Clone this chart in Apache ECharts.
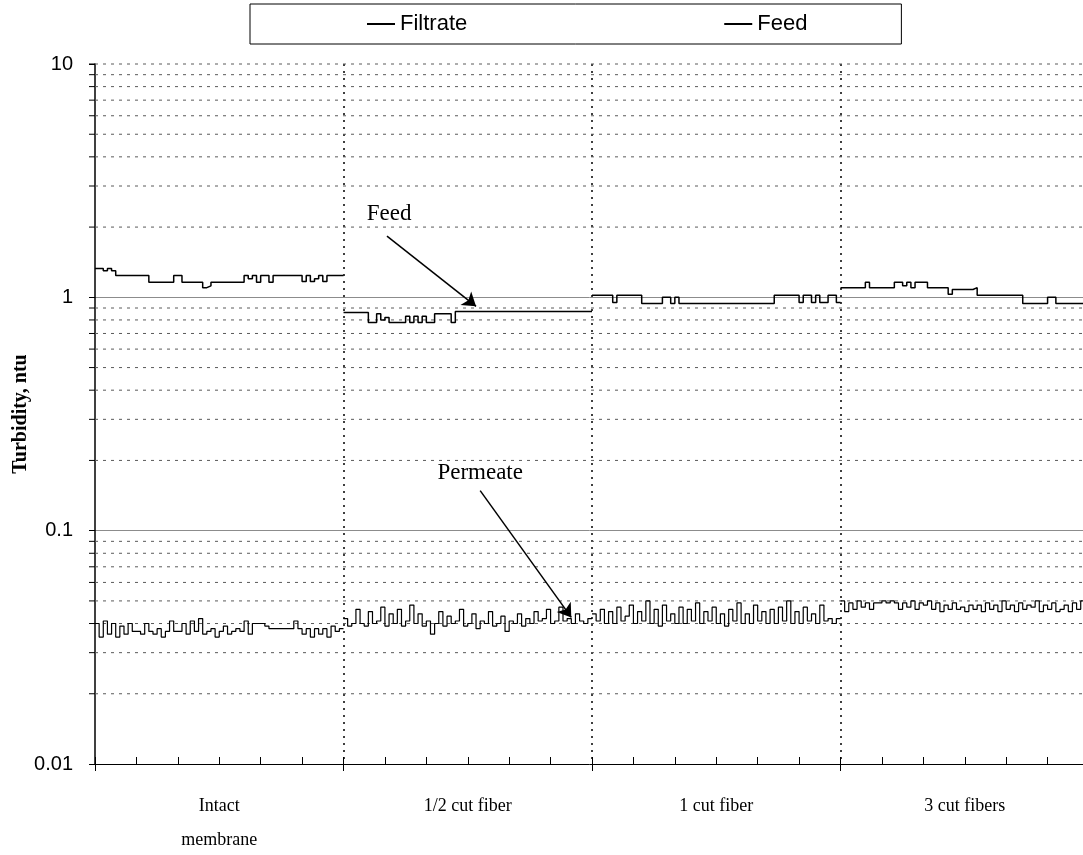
<!DOCTYPE html>
<html>
<head>
<meta charset="utf-8">
<script src="https://cdn.jsdelivr.net/npm/echarts@6/dist/echarts.min.js"></script>
<style>
  html, body { margin: 0; padding: 0; background: #fff; overflow: hidden; }
  #chart { width: 1083px; height: 855px; }
</style>
</head>
<body>
<div id="chart"></div>
<script>
// Membrane integrity test: turbidity of filtrate and feed for each fiber condition.
const categories = ['Intact\nmembrane', '1/2 cut fiber', '1 cut fiber', '3 cut fibers'];
const categoryCentres = [3, 9, 15, 21];      // x position of each condition label
const segmentLength = 6;                      // x span of one condition
const sampleStep = 0.1;                       // spacing of readings along x
const yTickLabels = { 0.01: '0.01', 0.1: '0.1', 1: '1', 10: '10' };
const minorGridValues = [
  0.02, 0.03, 0.04, 0.05, 0.06, 0.07, 0.08, 0.09,
  0.2, 0.3, 0.4, 0.5, 0.6, 0.7, 0.8, 0.9,
  2, 3, 4, 5, 6, 7, 8, 9, 10
];

// Filtrate (permeate) turbidity, ntu — one reading per sample step
const filtrateIntact = [
  0.040, 0.035, 0.041, 0.036, 0.040, 0.035, 0.039, 0.036, 0.040, 0.037,
  0.037, 0.036, 0.040, 0.037, 0.036, 0.038, 0.035, 0.037, 0.041, 0.037,
  0.037, 0.040, 0.036, 0.041, 0.037, 0.042, 0.036, 0.037, 0.038, 0.035,
  0.037, 0.039, 0.036, 0.037, 0.038, 0.037, 0.041, 0.036, 0.040, 0.040,
  0.040, 0.039, 0.038, 0.038, 0.038, 0.038, 0.038, 0.038, 0.041, 0.038,
  0.036, 0.038, 0.035, 0.038, 0.036, 0.038, 0.035, 0.039, 0.037, 0.038
];
const filtrateHalfCut = [
  0.042, 0.039, 0.040, 0.046, 0.040, 0.039, 0.045, 0.040, 0.041, 0.047,
  0.039, 0.044, 0.040, 0.046, 0.039, 0.041, 0.048, 0.040, 0.044, 0.039,
  0.041, 0.036, 0.040, 0.045, 0.039, 0.043, 0.040, 0.041, 0.046, 0.039,
  0.040, 0.044, 0.038, 0.041, 0.040, 0.045, 0.039, 0.040, 0.043, 0.037,
  0.041, 0.040, 0.044, 0.039, 0.042, 0.040, 0.045, 0.041, 0.042, 0.046,
  0.040, 0.041, 0.047, 0.041, 0.042, 0.040, 0.044, 0.041, 0.040, 0.042
];
const filtrateOneCut = [
  0.044, 0.041, 0.046, 0.040, 0.045, 0.040, 0.047, 0.041, 0.043, 0.048,
  0.040, 0.045, 0.041, 0.050, 0.040, 0.046, 0.039, 0.048, 0.041, 0.044,
  0.040, 0.047, 0.040, 0.046, 0.041, 0.049, 0.040, 0.045, 0.041, 0.047,
  0.040, 0.044, 0.039, 0.046, 0.041, 0.049, 0.040, 0.044, 0.040, 0.048,
  0.041, 0.045, 0.040, 0.046, 0.040, 0.047, 0.041, 0.050, 0.040, 0.045,
  0.040, 0.047, 0.041, 0.044, 0.040, 0.048, 0.041, 0.042, 0.040, 0.042
];
const filtrateThreeCut = [
  0.050, 0.045, 0.049, 0.046, 0.050, 0.047, 0.049, 0.046, 0.049, 0.049,
  0.050, 0.049, 0.050, 0.049, 0.046, 0.049, 0.047, 0.050, 0.046, 0.049,
  0.048, 0.050, 0.046, 0.049, 0.045, 0.048, 0.046, 0.049, 0.046, 0.047,
  0.045, 0.048, 0.046, 0.048, 0.045, 0.049, 0.046, 0.048, 0.045, 0.050,
  0.046, 0.048, 0.045, 0.049, 0.046, 0.048, 0.047, 0.050, 0.045, 0.048,
  0.046, 0.049, 0.045, 0.046, 0.048, 0.045, 0.049, 0.046, 0.050, 0.047
];

// Feed turbidity, ntu
const feedIntact = [
  1.33, 1.33, 1.30, 1.33, 1.30, 1.24, 1.24, 1.24, 1.24, 1.24,
  1.24, 1.24, 1.24, 1.16, 1.16, 1.16, 1.16, 1.16, 1.16, 1.24,
  1.24, 1.16, 1.16, 1.16, 1.16, 1.16, 1.10, 1.12, 1.16, 1.16,
  1.16, 1.16, 1.16, 1.16, 1.16, 1.16, 1.24, 1.20, 1.24, 1.16,
  1.24, 1.24, 1.16, 1.24, 1.24, 1.24, 1.24, 1.24, 1.24, 1.24,
  1.17, 1.24, 1.17, 1.20, 1.24, 1.17, 1.24, 1.24, 1.24, 1.24
];
const feedHalfCut = [
  0.86, 0.86, 0.86, 0.86, 0.86, 0.86, 0.78, 0.78, 0.85, 0.80,
  0.82, 0.78, 0.78, 0.78, 0.78, 0.83, 0.78, 0.83, 0.78, 0.83,
  0.78, 0.78, 0.85, 0.85, 0.85, 0.85, 0.78, 0.87, 0.87, 0.87,
  0.87, 0.87, 0.87, 0.87, 0.87, 0.87, 0.87, 0.87, 0.87, 0.87,
  0.87, 0.87, 0.87, 0.87, 0.87, 0.87, 0.87, 0.87, 0.87, 0.87,
  0.87, 0.87, 0.87, 0.87, 0.87, 0.87, 0.87, 0.87, 0.87, 0.87
];
const feedOneCut = [
  1.02, 1.02, 1.02, 1.02, 1.02, 0.95, 1.02, 1.02, 1.02, 1.02,
  1.02, 1.02, 0.94, 0.94, 0.94, 0.94, 0.94, 1.00, 1.00, 0.94,
  1.00, 0.94, 0.94, 0.94, 0.94, 0.94, 0.94, 0.94, 0.94, 0.94,
  0.94, 0.94, 0.94, 0.94, 0.94, 0.94, 0.94, 0.94, 0.94, 0.94,
  0.94, 0.94, 0.94, 0.94, 1.02, 1.02, 1.02, 1.02, 1.02, 1.02,
  0.95, 1.02, 1.02, 0.95, 1.02, 0.95, 0.95, 1.02, 1.02, 0.95
];
const feedThreeCut = [
  1.10, 1.10, 1.10, 1.10, 1.10, 1.10, 1.16, 1.10, 1.10, 1.10,
  1.10, 1.10, 1.10, 1.16, 1.16, 1.12, 1.16, 1.10, 1.16, 1.16,
  1.16, 1.10, 1.10, 1.10, 1.10, 1.10, 1.03, 1.08, 1.08, 1.08,
  1.08, 1.08, 1.10, 1.02, 1.02, 1.02, 1.02, 1.02, 1.02, 1.02,
  1.02, 1.02, 1.02, 1.02, 0.94, 0.94, 0.94, 0.94, 0.94, 0.94,
  1.00, 1.00, 0.94, 0.94, 0.94, 0.94, 0.94, 0.94, 0.94, 0.94
];

// Annotation anchors in data coordinates [x, ntu]
const feedNote = { text: 'Feed', at: [7.10, 2.27], from: [7.05, 1.83], to: [9.20, 0.915] };
const permeateNote = { text: 'Permeate', at: [9.30, 0.177], from: [9.30, 0.1485], to: [11.50, 0.0425] };

// Turn per-condition readings into one stepped polyline, broken between conditions
function buildTrace(segments) {
  const out = [];
  segments.forEach((vals, s) => {
    const x0 = s * segmentLength;
    vals.forEach((v, i) => out.push([x0 + i * sampleStep, v]));
    out.push([x0 + segmentLength, vals[vals.length - 1]]);
    out.push(['-', '-']);
  });
  return out;
}

const filtrateTrace = buildTrace([filtrateIntact, filtrateHalfCut, filtrateOneCut, filtrateThreeCut]);
const feedTrace = buildTrace([feedIntact, feedHalfCut, feedOneCut, feedThreeCut]);
const xMax = categories.length * segmentLength;

const chart = echarts.init(document.getElementById('chart'), null, { renderer: 'canvas' });

const noteText = {
  show: true, color: '#000', fontFamily: 'Liberation Serif', fontSize: 23
};

chart.setOption({
  backgroundColor: '#fff',
  animation: false,
  legend: {
    left: 250, top: 4,
    padding: [9, 94, 9, 117],
    itemGap: 257,
    itemWidth: 28, itemHeight: 2,
    icon: 'rect',
    borderColor: '#000', borderWidth: 1,
    textStyle: { fontFamily: 'Liberation Sans', fontSize: 22, color: '#000' },
    data: ['Filtrate', 'Feed']
  },
  grid: { left: 95, width: 994, top: 64, height: 700, outerBoundsMode: 'none', containLabel: false },
  xAxis: [
    {
      type: 'value', min: 0, max: xMax, interval: 1,
      axisLine: { show: true, lineStyle: { color: '#000', width: 1 } },
      axisTick: { show: true, inside: true, length: 7, lineStyle: { color: '#000' } },
      axisLabel: {
        margin: 25,
        fontFamily: 'Liberation Serif', fontSize: 18, color: '#000', lineHeight: 34,
        formatter: v => {
          const k = categoryCentres.indexOf(v);
          return k >= 0 ? categories[k] : '';
        }
      },
      splitLine: { show: false }
    },
    {
      type: 'value', min: 0, max: xMax, interval: segmentLength, position: 'bottom',
      axisLine: { show: false },
      axisTick: { show: true, inside: false, length: 7, lineStyle: { color: '#000' } },
      axisLabel: { show: false },
      splitLine: {
        show: true, showMinLine: false, showMaxLine: false,
        lineStyle: { color: '#000', width: 1.5, type: [2, 5] }
      }
    }
  ],
  yAxis: {
    type: 'log', logBase: 10, min: 0.01, max: 10,
    name: 'Turbidity, ntu', nameLocation: 'middle', nameGap: 64, nameMoveOverlap: false,
    nameTextStyle: { fontFamily: 'Liberation Serif', fontWeight: 'bold', fontSize: 20, color: '#000' },
    axisLine: { show: true, lineStyle: { color: '#000', width: 1.5 } },
    axisTick: { show: true, inside: false, length: 6, lineStyle: { color: '#000' } },
    axisLabel: {
      margin: 22, fontFamily: 'Liberation Sans', fontSize: 20, color: '#000',
      formatter: v => yTickLabels[+v.toPrecision(3)] || ''
    },
    splitLine: {
      show: true, showMinLine: false, showMaxLine: false,
      lineStyle: { color: '#8c8c8c', width: 1 }
    }
  },
  series: [
    {
      // dotted minor grid at 2..9 of each decade, with outward ticks on the value axis
      type: 'custom',
      silent: true,
      z: 1,
      xAxisIndex: 0,
      data: minorGridValues.map(v => [0, v]),
      renderItem: (params, api) => {
        const v = api.value(1);
        const a = api.coord([0, v]);
        const b = api.coord([xMax, v]);
        return {
          type: 'group',
          children: [
            { type: 'line', shape: { x1: a[0], y1: a[1], x2: b[0], y2: b[1] },
              style: { stroke: '#5a5a5a', lineWidth: 1, lineDash: [3, 5] } },
            { type: 'line', shape: { x1: a[0] - 6, y1: a[1], x2: a[0], y2: a[1] },
              style: { stroke: '#000', lineWidth: 1 } }
          ]
        };
      }
    },
    {
      name: 'Filtrate', type: 'line', step: 'end', xAxisIndex: 0,
      data: filtrateTrace, showSymbol: false, symbol: 'none', connectNulls: false,
      color: '#000',
      lineStyle: { color: '#000', width: 1.2 },
      z: 3,
      markPoint: {
        symbol: 'circle', symbolSize: 0, silent: true,
        label: Object.assign({ formatter: permeateNote.text }, noteText),
        data: [{ coord: permeateNote.at }]
      },
      markLine: {
        silent: true, symbol: ['none', 'arrow'], symbolSize: 13,
        label: { show: false },
        lineStyle: { color: '#000', width: 1.5, type: 'solid' },
        data: [[{ coord: permeateNote.from }, { coord: permeateNote.to }]]
      }
    },
    {
      name: 'Feed', type: 'line', step: 'end', xAxisIndex: 0,
      data: feedTrace, showSymbol: false, symbol: 'none', connectNulls: false,
      color: '#000',
      lineStyle: { color: '#000', width: 1.5 },
      z: 3,
      markPoint: {
        symbol: 'circle', symbolSize: 0, silent: true,
        label: Object.assign({ formatter: feedNote.text }, noteText),
        data: [{ coord: feedNote.at }]
      },
      markLine: {
        silent: true, symbol: ['none', 'arrow'], symbolSize: 13,
        label: { show: false },
        lineStyle: { color: '#000', width: 1.5, type: 'solid' },
        data: [[{ coord: feedNote.from }, { coord: feedNote.to }]]
      }
    }
  ]
});
</script>
</body>
</html>
